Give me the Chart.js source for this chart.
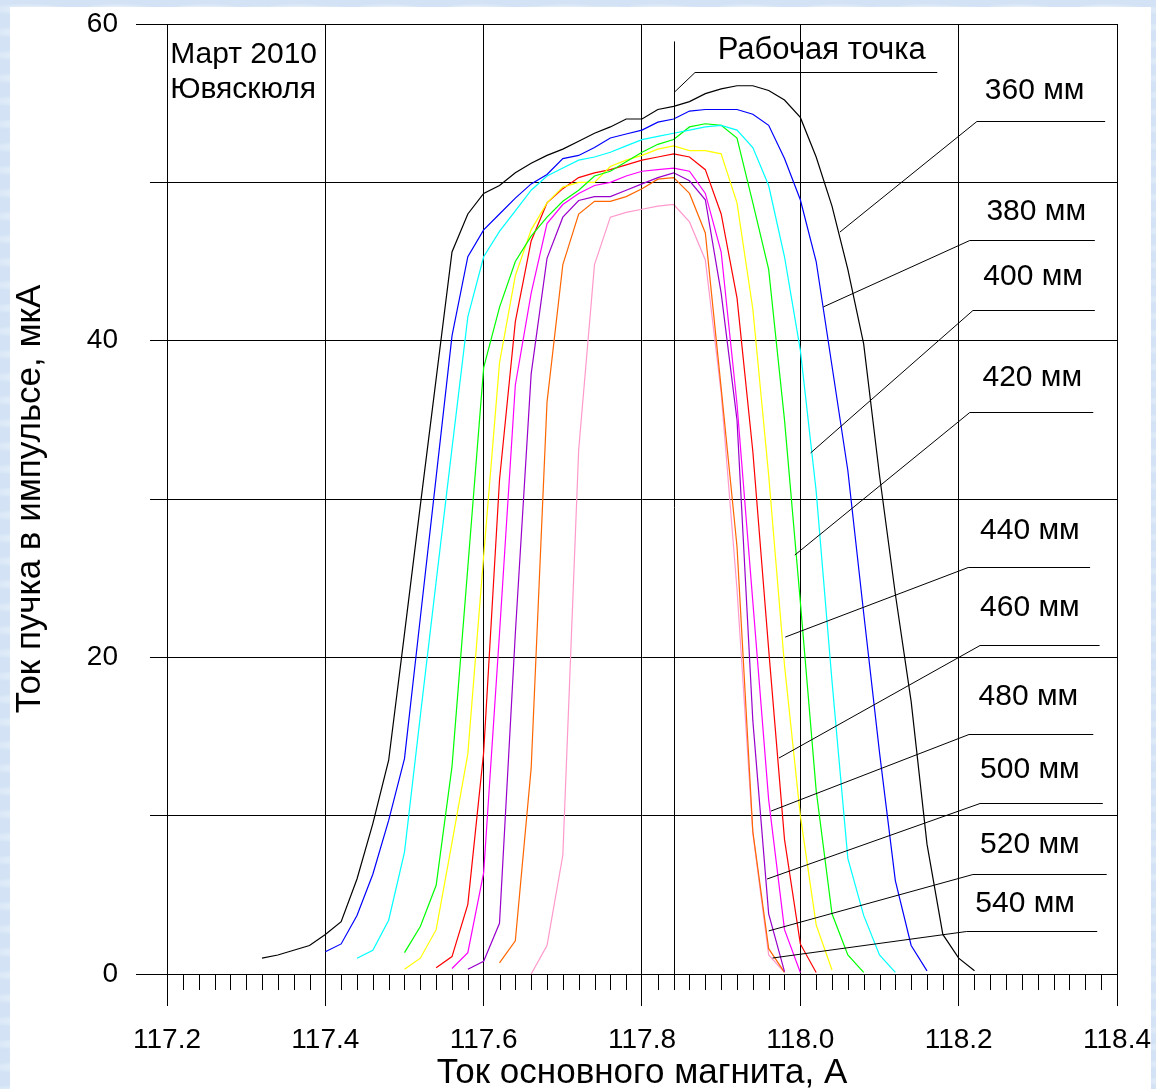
<!DOCTYPE html>
<html>
<head>
<meta charset="utf-8">
<script src="https://cdn.jsdelivr.net/npm/chart.js@4.4.1/dist/chart.umd.min.js"></script>
<style>
  html, body { margin: 0; padding: 0; }
  body {
    width: 1156px; height: 1089px; overflow: hidden;
    background-color: #d3e3f5;
    background-image:
      radial-gradient(ellipse 40px 6px at 30% 40%, rgba(255,255,255,0.6), transparent),
      radial-gradient(ellipse 30px 5px at 70% 60%, rgba(255,255,255,0.5), transparent);
    background-size: 90px 23px, 70px 17px;
  }
  canvas { position: absolute; left: 0; top: 0; }
</style>
</head>
<body>
<canvas id="chart" width="1156" height="1089"></canvas>
<script>
const FONT = "'Liberation Sans', Arial, sans-serif";

// ток основного магнита, А
const current = [117.32, 117.34, 117.36, 117.38, 117.40, 117.42, 117.44, 117.46, 117.48, 117.50,
                 117.52, 117.54, 117.56, 117.58, 117.60, 117.62, 117.64, 117.66, 117.68, 117.70,
                 117.72, 117.74, 117.76, 117.78, 117.80, 117.82, 117.84, 117.86, 117.88, 117.90,
                 117.92, 117.94, 117.96, 117.98, 118.00, 118.02, 118.04, 118.06, 118.08, 118.10,
                 118.12, 118.14, 118.16, 118.18, 118.20, 118.22];

// ток пучка, мкА (по расстояниям)
const beam360 = [1.0, 1.2, 1.5, 1.8, 2.5, 3.3, 6.0, 9.5, 13.5, 21.5, 29.6, 37.6, 45.6, 48.0, 49.3, 49.8,
                 50.6, 51.2, 51.7, 52.1, 52.6, 53.1, 53.5, 54.0, 54.0, 54.6, 54.8, 55.1, 55.6, 55.9, 56.1,
                 56.1, 55.8, 55.2, 54.1, 51.6, 48.5, 44.5, 39.8, 31.5, 24.0, 17.2, 8.2, 2.5, 1.0, 0.2];
const beam380 = [null, null, null, null, 1.4, 1.9, 3.7, 6.3, 9.7, 13.6, 22.5, 31.4, 40.3, 45.3, 47.0, 48.0,
                 49.0, 49.9, 50.5, 51.5, 51.7, 52.2, 52.8, 53.05, 53.3, 53.8, 54.0, 54.5, 54.6, 54.6, 54.6,
                 54.3, 53.6, 51.5, 48.9, 45.0, 38.4, 31.8, 22.8, 14.0, 5.9, 1.8, 0.2, null, null, null];
const beam400 = [null, null, null, null, null, null, 1.0, 1.5, 3.4, 7.7, 16.3, 24.8, 33.2, 41.5, 45.3, 46.9,
                 48.2, 49.5, 50.4, 50.9, 51.4, 51.6, 51.9, 52.3, 52.7, 52.9, 53.1, 53.3, 53.5, 53.6, 53.3,
                 52.2, 49.8, 45.3, 39.4, 30.5, 18.5, 7.3, 3.7, 1.2, 0.1, null, null, null, null, null];
const beam420 = [null, null, null, null, null, null, null, null, null, 1.35, 3.0, 5.6, 13.1, 25.7, 38.3, 42.1,
                 45.0, 46.6, 47.8, 48.8, 49.5, 50.4, 50.7, 51.3, 51.9, 52.4, 52.7, 53.5, 53.7, 53.6, 52.8,
                 48.7, 44.5, 35.0, 23.5, 11.6, 3.8, 1.2, 0.1, null, null, null, null, null, null, null];
const beam440 = [null, null, null, null, null, null, null, null, null, 0.3, 1.0, 2.8, 8.3, 13.9, 26.4, 38.6,
                 44.1, 47.0, 48.7, 49.7, 50.0, 50.0, 51.0, 51.4, 51.7, 52.1, 52.3, 52.0, 52.0, 51.8, 48.7,
                 42.0, 31.5, 19.5, 10.0, 3.1, 0.25, null, null, null, null, null, null, null, null, null];
const beam460 = [null, null, null, null, null, null, null, null, null, null, null, 0.4, 1.1, 4.4, 14.0, 31.2,
                 41.2, 46.3, 48.7, 49.6, 50.3, 50.6, 50.8, 51.1, 51.4, 51.6, 51.8, 51.6, 50.8, 48.0, 42.7,
                 33.0, 20.5, 8.5, 1.9, 0.1, null, null, null, null, null, null, null, null, null, null];
const beam480 = [null, null, null, null, null, null, null, null, null, null, null, null, 0.35, 1.35, 6.4, 21.5,
                 37.2, 43.0, 47.4, 48.6, 49.3, 49.8, 50.0, 50.4, 50.7, 50.8, 50.9, 50.7, 49.3, 45.6, 36.0,
                 23.5, 11.0, 2.8, 0.1, null, null, null, null, null, null, null, null, null, null, null];
const beam500 = [null, null, null, null, null, null, null, null, null, null, null, null, null, 0.3, 0.8, 3.2,
                 21.5, 37.9, 45.2, 47.8, 48.85, 49.1, 49.1, 49.5, 49.9, 50.3, 50.6, 50.1, 48.9, 43.0, 35.0,
                 16.0, 3.8, 0.15, null, null, null, null, null, null, null, null, null, null, null, null];
const beam520 = [null, null, null, null, null, null, null, null, null, null, null, null, null, null, null, 0.7,
                 2.1, 13.0, 36.1, 44.8, 48.0, 48.8, 48.8, 49.1, 49.6, 50.2, 50.3, 49.3, 46.8, 37.0, 27.0,
                 9.0, 1.6, 0.1, null, null, null, null, null, null, null, null, null, null, null, null];
const beam540 = [null, null, null, null, null, null, null, null, null, null, null, null, null, null, null, null,
                 null, 0.0, 1.8, 7.5, 33.1, 44.8, 47.8, 48.1, 48.3, 48.5, 48.6, 47.5, 45.1, 36.7, 24.3,
                 8.9, 1.2, 0.1, null, null, null, null, null, null, null, null, null, null, null, null];

const distances = ['360 мм', '380 мм', '400 мм', '420 мм', '440 мм', '460 мм', '480 мм', '500 мм', '520 мм', '540 мм'];
const beams = [beam360, beam380, beam400, beam420, beam440, beam460, beam480, beam500, beam520, beam540];
const colors = ['#000000', '#0000ff', '#00ffff', '#00ff00', '#ffff00', '#ff0000', '#ff00ff', '#9900cc', '#ff6600', '#ff99cc'];

const xTicks = [117.2, 117.4, 117.6, 117.8, 118.0, 118.2, 118.4];
const yTicks = [0, 20, 40, 60];
const workPoint = 117.84;

// выноски: точка на кривой, излом, конец полки, центр подписи (в единицах осей)
const callouts = [
  { at: [118.050, 46.86], knee: [118.223, 53.87], end: 118.385, text: [118.296, 55.77] },
  { at: [118.029, 42.13], knee: [118.214, 46.36], end: 118.372, text: [118.298, 48.13] },
  { at: [118.013, 32.91], knee: [118.218, 41.94], end: 118.372, text: [118.294, 44.02] },
  { at: [117.993, 26.46], knee: [118.214, 35.50], end: 118.370, text: [118.293, 37.64] },
  { at: [117.981, 21.28], knee: [118.212, 25.71], end: 118.366, text: [118.290, 27.98] },
  { at: [117.973, 13.64], knee: [118.227, 20.78], end: 118.378, text: [118.290, 23.12] },
  { at: [117.963, 10.29], knee: [118.213, 15.16], end: 118.370, text: [118.288, 17.50] },
  { at: [117.958, 6.00], knee: [118.227, 10.80], end: 118.382, text: [118.290, 12.88] },
  { at: [117.960, 2.72], knee: [118.218, 6.32], end: 118.387, text: [118.290, 8.15] },
  { at: [117.965, 1.01], knee: [118.210, 2.72], end: 118.375, text: [118.284, 4.42] }
];

const datasets = beams.map((arr, i) => ({
  label: distances[i],
  data: current.map((x, j) => ({ x: x, y: arr[j] })).filter(p => p.y !== null),
  borderColor: colors[i],
  borderWidth: 1.2,
  pointRadius: 0,
  fill: false,
  tension: 0
}));

function line(ctx, x1, y1, x2, y2) {
  ctx.beginPath();
  ctx.moveTo(x1, y1);
  ctx.lineTo(x2, y2);
  ctx.stroke();
}
const snap = v => Math.round(v) + 0.5;

const panelPlugin = {
  id: 'panel',
  beforeDraw(chart) {
    const ctx = chart.ctx;
    ctx.save();
    ctx.fillStyle = '#ffffff';
    ctx.fillRect(10, 7, 1141, 1082);
    ctx.restore();
  }
};

const extrasPlugin = {
  id: 'extras',
  afterDraw(chart) {
    const ctx = chart.ctx;
    const xs = chart.scales.x, ys = chart.scales.y;
    const area = chart.chartArea;
    const px = v => xs.getPixelForValue(v);
    const py = v => ys.getPixelForValue(v);
    ctx.save();
    ctx.strokeStyle = '#000';
    ctx.lineWidth = 1;

    // мелкие деления по оси X
    for (let i = 1; i < 60; i++) {
      if (i % 10 === 0) continue;
      const x = snap(px(xTicks[0] + i * 0.02));
      line(ctx, x, area.bottom, x, area.bottom + 16);
    }
    // удлинённые деления у 0 и 60
    [0, 60].forEach(v => {
      const y = snap(py(v));
      line(ctx, area.left - 31, y, area.left - 17, y);
    });

    // рабочая точка
    const wx = snap(px(workPoint));
    line(ctx, wx, py(58.9), wx, area.bottom);
    ctx.beginPath();
    ctx.moveTo(wx, py(55.7));
    ctx.lineTo(px(117.867), snap(py(57.0)));
    ctx.lineTo(px(118.173), snap(py(57.0)));
    ctx.stroke();

    ctx.fillStyle = '#000';
    ctx.textBaseline = 'middle';
    ctx.textAlign = 'center';
    ctx.font = '31px ' + FONT;
    ctx.fillText('Рабочая точка', px(118.027), py(58.36));

    // выноски к кривым
    ctx.font = '30px ' + FONT;
    callouts.forEach((c, i) => {
      const ky = snap(py(c.knee[1]));
      ctx.beginPath();
      ctx.moveTo(px(c.at[0]), py(c.at[1]));
      ctx.lineTo(px(c.knee[0]), ky);
      ctx.lineTo(px(c.end), ky);
      ctx.stroke();
      ctx.fillText(distances[i], px(c.text[0]), py(c.text[1]));
    });

    ctx.textAlign = 'left';
    ctx.fillText('Март 2010', px(117.204), py(58.04));
    ctx.fillText('Ювяскюля', px(117.204), py(55.83));
    ctx.restore();
  }
};

new Chart(document.getElementById('chart'), {
  type: 'line',
  data: { datasets: datasets },
  options: {
    responsive: false,
    animation: false,
    layout: { padding: { top: 24, right: 39, left: 0, bottom: 0 } },
    plugins: { legend: { display: false }, tooltip: { enabled: false } },
    scales: {
      x: {
        type: 'linear',
        min: xTicks[0],
        max: xTicks[xTicks.length - 1],
        afterFit: s => { s.height = 115; s.paddingLeft = 30; s.paddingRight = 30; },
        afterBuildTicks: s => { s.ticks = xTicks.map(v => ({ value: v })); },
        ticks: {
          callback: v => v.toFixed(1),
          font: { size: 28, family: FONT },
          color: '#000',
          padding: 17,
          maxRotation: 0,
          autoSkip: false
        },
        grid: { color: '#000', lineWidth: 1, tickLength: 32, tickColor: '#000' },
        border: { color: '#000', width: 1 },
        title: {
          display: true,
          text: 'Ток основного магнита, А',
          font: { size: 35, family: FONT },
          color: '#000',
          padding: { top: 0, bottom: -5 }
        }
      },
      y: {
        min: 0,
        max: 60,
        afterFit: s => { s.width = 167; s.paddingTop = 17; s.paddingBottom = 17; },
        ticks: {
          stepSize: 10,
          callback: v => yTicks.includes(v) ? String(v) : '',
          font: { size: 28, family: FONT },
          color: '#000',
          padding: 32
        },
        grid: { color: '#000', lineWidth: 1, tickLength: 17, tickColor: '#000' },
        border: { color: '#000', width: 1 },
        title: {
          display: true,
          text: 'Ток пучка в импульсе, мкА',
          font: { size: 35, family: FONT },
          color: '#000',
          padding: { top: 9, bottom: 0 }
        }
      }
    }
  },
  plugins: [panelPlugin, extrasPlugin]
});
</script>
</body>
</html>
